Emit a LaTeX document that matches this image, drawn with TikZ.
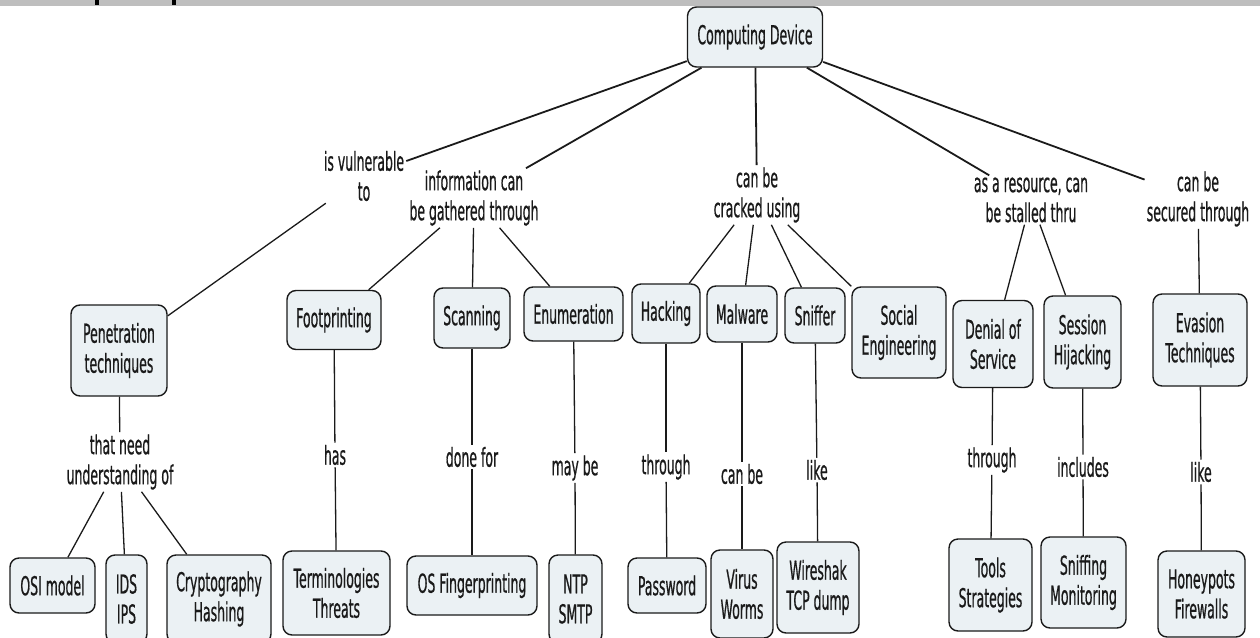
\documentclass[tikz,border=0pt]{standalone}
\usepackage{fontspec}
\setmainfont{DejaVu Sans}[FakeStretch=0.48, FakeBold=0.6]
\usepackage{xcolor}
\definecolor{mapink}{HTML}{1A1A1A}
\definecolor{mapfill}{HTML}{EBF1F4}
\definecolor{mapband}{HTML}{BEBEBE}

\begin{document}
\begin{tikzpicture}[
  x=1pt,
  y=-1pt,
  every node/.style={font=\fontsize{26}{30}\selectfont, text=mapink},
  concept/.style={draw=mapink, fill=mapfill, line width=1.4pt, rounded corners=9pt, align=center, inner sep=2pt},
  phrase/.style={align=center, inner sep=2pt},
  toplink/.style={draw=mapink, line width=1.8pt},
  link/.style={draw=mapink, line width=1.3pt}
]
  \useasboundingbox (0,0) rectangle (1260,637);
  \clip (0,0) rectangle (1260,637);
  \fill[mapband] (0,0) rectangle (1260,6);
  \fill[black] (95,0) rectangle (99,5);
  \fill[black] (172,0) rectangle (176,5);

  % root
  \node[concept, minimum width=135, minimum height=60] (cd) at (755,37) {Computing Device};

  % first linking phrases
  \node[phrase] (vuln) at (364,176) {is vulnerable\\to};
  \node[phrase] (info) at (474,198) {information can\\be gathered through};
  \node[phrase] (crack) at (757,195) {can be\\cracked using};
  \node[phrase] (stall) at (1031,200) {as a resource, can\\be stalled thru};
  \node[phrase] (secure) at (1198,199) {can be\\secured through};

  % middle row
  \node[concept, minimum width=96, minimum height=91] (pen) at (119,350.5) {Penetration\\techniques};
  \node[concept, minimum width=94, minimum height=59] (foot) at (334,320) {Footprinting};
  \node[concept, minimum width=76, minimum height=60] (scan) at (472,318) {Scanning};
  \node[concept, minimum width=99, minimum height=54] (enum) at (573.5,314) {Enumeration};
  \node[concept, minimum width=68, minimum height=59] (hack) at (666,313.5) {Hacking};
  \node[concept, minimum width=70, minimum height=56] (mal) at (742,314) {Malware};
  \node[concept, minimum width=60, minimum height=55] (sniff) at (815,315.5) {Sniffer};
  \node[concept, minimum width=94, minimum height=91] (social) at (899,332.5) {Social\\Engineering};
  \node[concept, minimum width=80, minimum height=87] (dos) at (993,344) {Denial of\\Service};
  \node[concept, minimum width=77, minimum height=92] (sess) at (1082.5,342) {Session\\Hijacking};
  \node[concept, minimum width=94, minimum height=92] (evas) at (1200,340) {Evasion\\Techniques};

  % second linking phrases
  \node[phrase] (need) at (120,462) {that need\\understanding of};
  \node[phrase] (has) at (335,455) {has};
  \node[phrase] (donefor) at (472,457) {done for};
  \node[phrase] (maybe) at (575,468) {may be};
  \node[phrase] (thru) at (666,467) {through};
  \node[phrase] (canbe) at (742,474) {can be};
  \node[phrase] (like) at (817,470) {like};
  \node[phrase] (thrudos) at (992,460) {through};
  \node[phrase] (incl) at (1083,467) {includes};
  \node[phrase] (likeev) at (1201,472) {like};

  % bottom row
  \node[concept, minimum width=85, minimum height=55] (osi) at (52.5,585.5) {OSI model};
  \node[concept, minimum width=41, minimum height=88] (ids) at (126.5,599) {IDS\\IPS};
  \node[concept, minimum width=104, minimum height=88] (crypto) at (219,599) {Cryptography\\Hashing};
  \node[concept, minimum width=107, minimum height=84] (term) at (336.5,593) {Terminologies\\Threats};
  \node[concept, minimum width=130, minimum height=59] (osf) at (472,585.5) {OS Fingerprinting};
  \node[concept, minimum width=53, minimum height=88] (ntp) at (575.5,599) {NTP\\SMTP};
  \node[concept, minimum width=78, minimum height=55] (pass) at (667,585.5) {Password};
  \node[concept, minimum width=62, minimum height=88] (virus) at (742,594) {Virus\\Worms};
  \node[concept, minimum width=82, minimum height=91] (wire) at (818,587.5) {Wireshak\\TCP dump};
  \node[concept, minimum width=83, minimum height=92] (tools) at (990.5,585) {Tools\\Strategies};
  \node[concept, minimum width=85, minimum height=91] (smon) at (1083.5,582.5) {Sniffing\\Monitoring};
  \node[concept, minimum width=87, minimum height=86] (honey) at (1201.5,594) {Honeypots\\Firewalls};

  % connectors
  \foreach \p in {vuln,info,crack,stall,secure}
    \draw[toplink] (cd) -- (\p);
  \draw[link] (vuln) -- (pen);
  \foreach \c in {foot,scan,enum}
    \draw[link] (info) -- (\c);
  \foreach \c in {hack,mal,sniff,social}
    \draw[link] (crack) -- (\c);
  \foreach \c in {dos,sess}
    \draw[link] (stall) -- (\c);
  \draw[link] (secure) -- (evas);
  \draw[link] (pen) -- (need);
  \foreach \c in {osi,ids,crypto}
    \draw[link] (need) -- (\c);
  \foreach \a/\p/\b in {foot/has/term, scan/donefor/osf, enum/maybe/ntp, hack/thru/pass,
      mal/canbe/virus, sniff/like/wire, dos/thrudos/tools, sess/incl/smon, evas/likeev/honey} {
    \draw[link] (\a) -- (\p);
    \draw[link] (\p) -- (\b);
  }
\end{tikzpicture}
\end{document}
